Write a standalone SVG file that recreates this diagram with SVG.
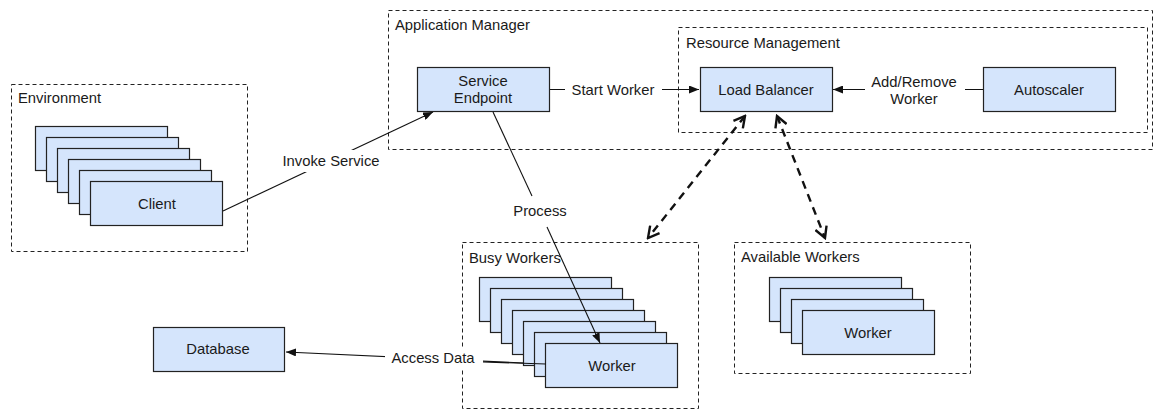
<svg xmlns="http://www.w3.org/2000/svg" width="1158" height="410" viewBox="0 0 1158 410">
  <style>
    text { font-family: "Liberation Sans", Arial, Helvetica, sans-serif; font-size: 14.8px; fill: #1a1a1a; }
    .c { text-anchor: middle; }
    .group { fill: none; stroke: #222; stroke-width: 1; stroke-dasharray: 4 3; }
    .box { fill: #d5e5fc; stroke: #222; stroke-width: 1.2; }
    .line { fill: none; stroke: #111; stroke-width: 1.1; }
    .dash { fill: none; stroke: #111; stroke-width: 2.4; stroke-dasharray: 8 6; }
    .bg { fill: #fff; }
  </style>
  <defs>
    <marker id="arrow" viewBox="0 0 10 8" refX="10" refY="4" markerWidth="10" markerHeight="8" markerUnits="userSpaceOnUse" orient="auto">
      <path d="M0,0 L10,4 L0,8 Z" fill="#111"/>
    </marker>
    <marker id="vee" viewBox="0 0 14 14" refX="12" refY="7" markerWidth="14" markerHeight="14" markerUnits="userSpaceOnUse" orient="auto-start-reverse">
      <path d="M1,1 L12,7 L1,13" fill="none" stroke="#111" stroke-width="2.4"/>
    </marker>
  </defs>

  <!-- containers -->
  <g id="environment">
    <rect class="group" x="11.5" y="84.5" width="236" height="167"/>
    <text x="18" y="103">Environment</text>
  </g>
  <g id="application-manager">
    <rect class="group" x="388.5" y="10.5" width="764" height="139"/>
    <text x="395" y="30">Application Manager</text>
  </g>
  <g id="resource-management">
    <rect class="group" x="678.5" y="27.5" width="469" height="105"/>
    <text x="686" y="48">Resource Management</text>
  </g>
  <g id="busy-workers">
    <rect class="group" x="462.5" y="242.5" width="236" height="166"/>
    <text x="469" y="263">Busy Workers</text>
  </g>
  <g id="available-workers">
    <rect class="group" x="734.5" y="242.5" width="236" height="131"/>
    <text x="741" y="262">Available Workers</text>
  </g>

  <!-- connectors, with white label backings -->
  <g id="connectors">
    <line class="line" x1="223" y1="211" x2="433" y2="112" marker-end="url(#arrow)"/>
    <line class="line" x1="549" y1="89.5" x2="699" y2="89.5" marker-end="url(#arrow)"/>
    <line class="line" x1="983" y1="89.5" x2="833" y2="89.5" marker-end="url(#arrow)"/>
    <line class="dash" x1="745" y1="116" x2="648" y2="238" marker-start="url(#vee)" marker-end="url(#vee)"/>
    <line class="dash" x1="777" y1="116" x2="825" y2="238" marker-start="url(#vee)" marker-end="url(#vee)"/>
    <line class="line" x1="546" y1="364" x2="286" y2="352" marker-end="url(#arrow)"/>
    <rect class="bg" x="279" y="150" width="104" height="22"/>
    <rect class="bg" x="565" y="80" width="97" height="20"/>
    <rect class="bg" x="865" y="72" width="100" height="36"/>
    <rect class="bg" x="385" y="348" width="98" height="20"/>
  </g>

  <g id="client-stack">
    <rect class="box" x="35.5" y="126.5" width="132" height="44"/>
    <rect class="box" x="46.5" y="137.5" width="132" height="44"/>
    <rect class="box" x="57.5" y="148.5" width="132" height="44"/>
    <rect class="box" x="68.5" y="159.5" width="132" height="44"/>
    <rect class="box" x="79.5" y="170.5" width="132" height="44"/>
    <rect class="box" x="90.5" y="181.5" width="132" height="44"/>
    <text class="c" x="157" y="209">Client</text>
  </g>

  <g id="service-endpoint">
    <rect class="box" x="417.5" y="67.5" width="132" height="44"/>
    <text class="c" x="483" y="86">Service</text>
    <text class="c" x="483" y="103">Endpoint</text>
  </g>

  <g id="load-balancer">
    <rect class="box" x="700.5" y="67.5" width="132" height="44"/>
    <text class="c" x="766" y="95">Load Balancer</text>
  </g>

  <g id="autoscaler">
    <rect class="box" x="983.5" y="67.5" width="132" height="44"/>
    <text class="c" x="1049" y="95">Autoscaler</text>
  </g>

  <g id="busy-worker-stack">
    <rect class="box" x="479.5" y="277.5" width="132" height="44"/>
    <rect class="box" x="490.5" y="288.5" width="132" height="44"/>
    <rect class="box" x="501.5" y="299.5" width="132" height="44"/>
    <rect class="box" x="512.5" y="310.5" width="132" height="44"/>
    <rect class="box" x="523.5" y="321.5" width="132" height="44"/>
    <rect class="box" x="534.5" y="332.5" width="132" height="44"/>
    <rect class="box" x="545.5" y="343.5" width="132" height="44"/>
    <text class="c" x="612" y="371">Worker</text>
  </g>

  <g id="available-worker-stack">
    <rect class="box" x="769.5" y="277.5" width="132" height="44"/>
    <rect class="box" x="780.5" y="288.5" width="132" height="44"/>
    <rect class="box" x="791.5" y="299.5" width="132" height="44"/>
    <rect class="box" x="802.5" y="310.5" width="132" height="44"/>
    <text class="c" x="868" y="338">Worker</text>
  </g>

  <g id="database">
    <rect class="box" x="153.5" y="327.5" width="131" height="44"/>
    <text class="c" x="218" y="354">Database</text>
  </g>

  <!-- segments drawn over the worker stack, plus connector labels -->
  <g id="connector-overlays">
    <line class="line" x1="546" y1="364" x2="483" y2="362"/>
    <line class="line" x1="493" y1="112" x2="532" y2="196"/>
    <line class="line" x1="547" y1="227" x2="600" y2="343" marker-end="url(#arrow)"/>
    <text class="c" x="331" y="166">Invoke Service</text>
    <text class="c" x="613" y="95">Start Worker</text>
    <text class="c" x="914" y="87">Add/Remove</text>
    <text class="c" x="914" y="104">Worker</text>
    <text class="c" x="540" y="216">Process</text>
    <text class="c" x="433" y="363">Access Data</text>
  </g>
</svg>
